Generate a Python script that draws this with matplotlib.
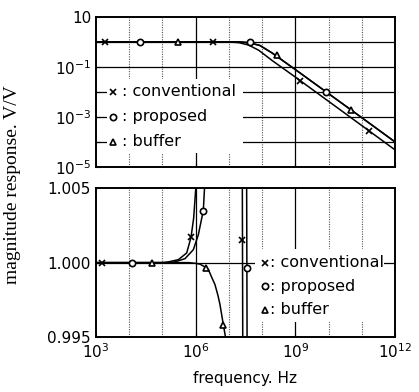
import numpy as np
import matplotlib
matplotlib.use('Agg')
import matplotlib.pyplot as plt
from matplotlib.patches import Rectangle

plt.rcParams['font.family'] = 'DejaVu Sans'
plt.rcParams['mathtext.fontset'] = 'dejavusans'

# ---- top panel: magnitude (log) ----
# frequencies given as log10(Hz)
top_conv_f = [3, 7.0, 7.3, 7.59, 7.9, 8.3, 9.0, 10.0, 11.0, 12.0]
top_conv_m = [1, 1, 0.93, 0.75, 0.46, 0.18, 0.039, 0.0042, 4.5e-4, 4.8e-5]
top_prop_f = [3, 7.3, 7.6, 7.93, 8.3, 8.7, 9.0, 10.0, 11.0, 12.0]
top_prop_m = [1, 1, 0.93, 0.72, 0.36, 0.15, 0.078, 0.0085, 9.3e-4, 1.0e-4]
top_buf_f = top_prop_f
top_buf_m = top_prop_m

top_conv_mk_f = [3.27, 6.52, 9.14, 11.22]
top_conv_mk_m = [1, 1, 0.028, 2.7e-4]
top_prop_mk_f = [4.33, 7.64, 9.92]
top_prop_mk_m = [1, 0.97, 0.0102]
top_buf_mk_f = [5.47, 8.44, 10.68]
top_buf_mk_m = [1, 0.29, 0.0019]

# ---- bottom panel: magnitude near 1 ----
bot_conv_f = [3, 5.0, 5.18, 5.48, 5.73, 5.86, 5.94, 6.0, 6.03, 6.5, 7.0, 7.40, 7.42, 7.6]
bot_conv_m = [1, 1, 1.00005, 1.0002, 1.00065, 1.0017, 1.003, 1.0049, 1.006, 1.03, 1.05, 1.008, 0.992, 0.95]
bot_prop_f = [3, 5.2, 5.38, 5.68, 5.93, 6.08, 6.23, 6.26, 6.29, 6.7, 7.2, 7.53, 7.55, 7.7]
bot_prop_m = [1, 1, 1.00005, 1.00027, 1.00087, 1.00187, 1.0035, 1.00475, 1.006, 1.03, 1.05, 1.008, 0.992, 0.95]
bot_buf_f = [3, 5.8, 6.0, 6.13, 6.31, 6.38, 6.46, 6.58, 6.67, 6.73, 6.83, 6.89, 6.95]
bot_buf_m = [1, 1, 0.99995, 0.9999, 0.99967, 0.99955, 0.99913, 0.99853, 0.9978, 0.9972, 0.99587, 0.99509, 0.994]

bot_conv_mk_f = [3.17, 5.86, 7.39]
bot_conv_mk_m = [1.0, 1.0017, 1.0015]
bot_prop_mk_f = [4.07, 6.23, 7.55]
bot_prop_mk_m = [1.0, 1.0035, 0.99965]
bot_buf_mk_f = [4.68, 6.31, 6.83]
bot_buf_mk_m = [1.0, 0.99967, 0.9958]

labels = ['conventional', 'proposed', 'buffer']
markers = ['x', 'o', '^']

xticks = [1e3, 1e6, 1e9, 1e12]
xticklabels = ['$10^3$', '$10^6$', '$10^9$', '$10^{12}$']
solid_x = [1e6, 1e9]
dotted_x = [1e4, 1e5, 1e7, 1e8, 1e10, 1e11]

fig = plt.figure(figsize=(4.19, 3.92), dpi=100)
ax1 = fig.add_axes([0.229, 0.574, 0.714, 0.383])
ax2 = fig.add_axes([0.229, 0.140, 0.714, 0.380])

def p(f):
    return 10 ** np.asarray(f, dtype=float)

mk = dict(ls='none', ms=4.5, mew=1.2, mfc='white', mec='black', zorder=3)

for ax in (ax1, ax2):
    ax.set_xscale('log')
    ax.set_xlim(1e3, 1e12)
    for x in solid_x:
        ax.axvline(x, color='black', lw=0.9, zorder=1)
    for x in dotted_x:
        ax.axvline(x, color='#555555', lw=0.8, ls=(0, (1, 1.2)), zorder=1)
    ax.set_xticks(xticks)
    ax.minorticks_off()
    ax.tick_params(direction='in', length=3, labelsize=11)
    for s in ax.spines.values():
        s.set_linewidth(1.4)

# top
ax1.set_yscale('log')
ax1.set_ylim(1e-5, 10)
for y in [1, 1e-1, 1e-2, 1e-3, 1e-4]:
    ax1.axhline(y, color='black', lw=0.9, zorder=1)
ax1.plot(p(top_conv_f), top_conv_m, color='black', lw=1.1, zorder=2)
ax1.plot(p(top_prop_f), top_prop_m, color='black', lw=1.1, zorder=2)
ax1.plot(p(top_buf_f), top_buf_m, color='black', lw=1.1, zorder=2)
ax1.plot(p(top_conv_mk_f), top_conv_mk_m, marker='x', **mk)
ax1.plot(p(top_prop_mk_f), top_prop_mk_m, marker='o', **mk)
ax1.plot(p(top_buf_mk_f), top_buf_mk_m, marker='^', **mk)
ax1.set_yticks([10, 1, 1e-1, 1e-2, 1e-3, 1e-4, 1e-5])
ax1.set_yticklabels(['10', '', '$10^{-1}$', '', '$10^{-3}$', '', '$10^{-5}$'])
ax1.set_xticklabels([])
ax1.minorticks_off()

ax1.add_patch(Rectangle((0.037, 0.093), 0.455, 0.49, transform=ax1.transAxes,
                        facecolor='white', edgecolor='none', zorder=3))
for i, (lab, m) in enumerate(zip(labels, markers)):
    yy = 0.5 - i * 0.1667
    ax1.plot([0.057], [yy], marker=m, transform=ax1.transAxes, ls='none', ms=4.5,
             mew=1.2, mfc='white', mec='black', zorder=4, clip_on=False)
    ax1.text(0.088, yy, ': ' + lab, transform=ax1.transAxes, va='center',
             ha='left', fontsize=11.5, zorder=4)

# bottom
ax2.set_ylim(0.995, 1.005)
ax2.axhline(1.0, color='black', lw=0.9, zorder=1)
ax2.plot(p(bot_conv_f), bot_conv_m, color='black', lw=1.1, zorder=2)
ax2.plot(p(bot_prop_f), bot_prop_m, color='black', lw=1.1, zorder=2)
ax2.plot(p(bot_buf_f), bot_buf_m, color='black', lw=1.1, zorder=2)
ax2.plot(p(bot_conv_mk_f), bot_conv_mk_m, marker='x', **mk)
ax2.plot(p(bot_prop_mk_f), bot_prop_mk_m, marker='o', **mk)
ax2.plot(p(bot_buf_mk_f), bot_buf_mk_m, marker='^', **mk)
ax2.set_yticks([0.995, 1.0, 1.005])
ax2.set_yticklabels(['0.995', '1.000', '1.005'])
ax2.set_xticklabels(xticklabels)

ax2.add_patch(Rectangle((0.532, 0.10), 0.432, 0.49, transform=ax2.transAxes,
                        facecolor='white', edgecolor='none', zorder=3))
for i, (lab, m) in enumerate(zip(labels, markers)):
    yy = 0.5 - i * 0.158
    ax2.plot([0.565], [yy], marker=m, transform=ax2.transAxes, ls='none', ms=4.5,
             mew=1.2, mfc='white', mec='black', zorder=4, clip_on=False)
    ax2.text(0.582, yy, ': ' + lab, transform=ax2.transAxes, va='center',
             ha='left', fontsize=11.5, zorder=4)

fig.text(0.585, 0.035, 'frequency. Hz', ha='center', va='center', fontsize=11)
fig.text(0.031, 0.528, 'magnitude response. V/V', ha='center', va='center',
         rotation=90, fontsize=14, family='Liberation Serif')

fig.savefig('out.png', dpi=100)
